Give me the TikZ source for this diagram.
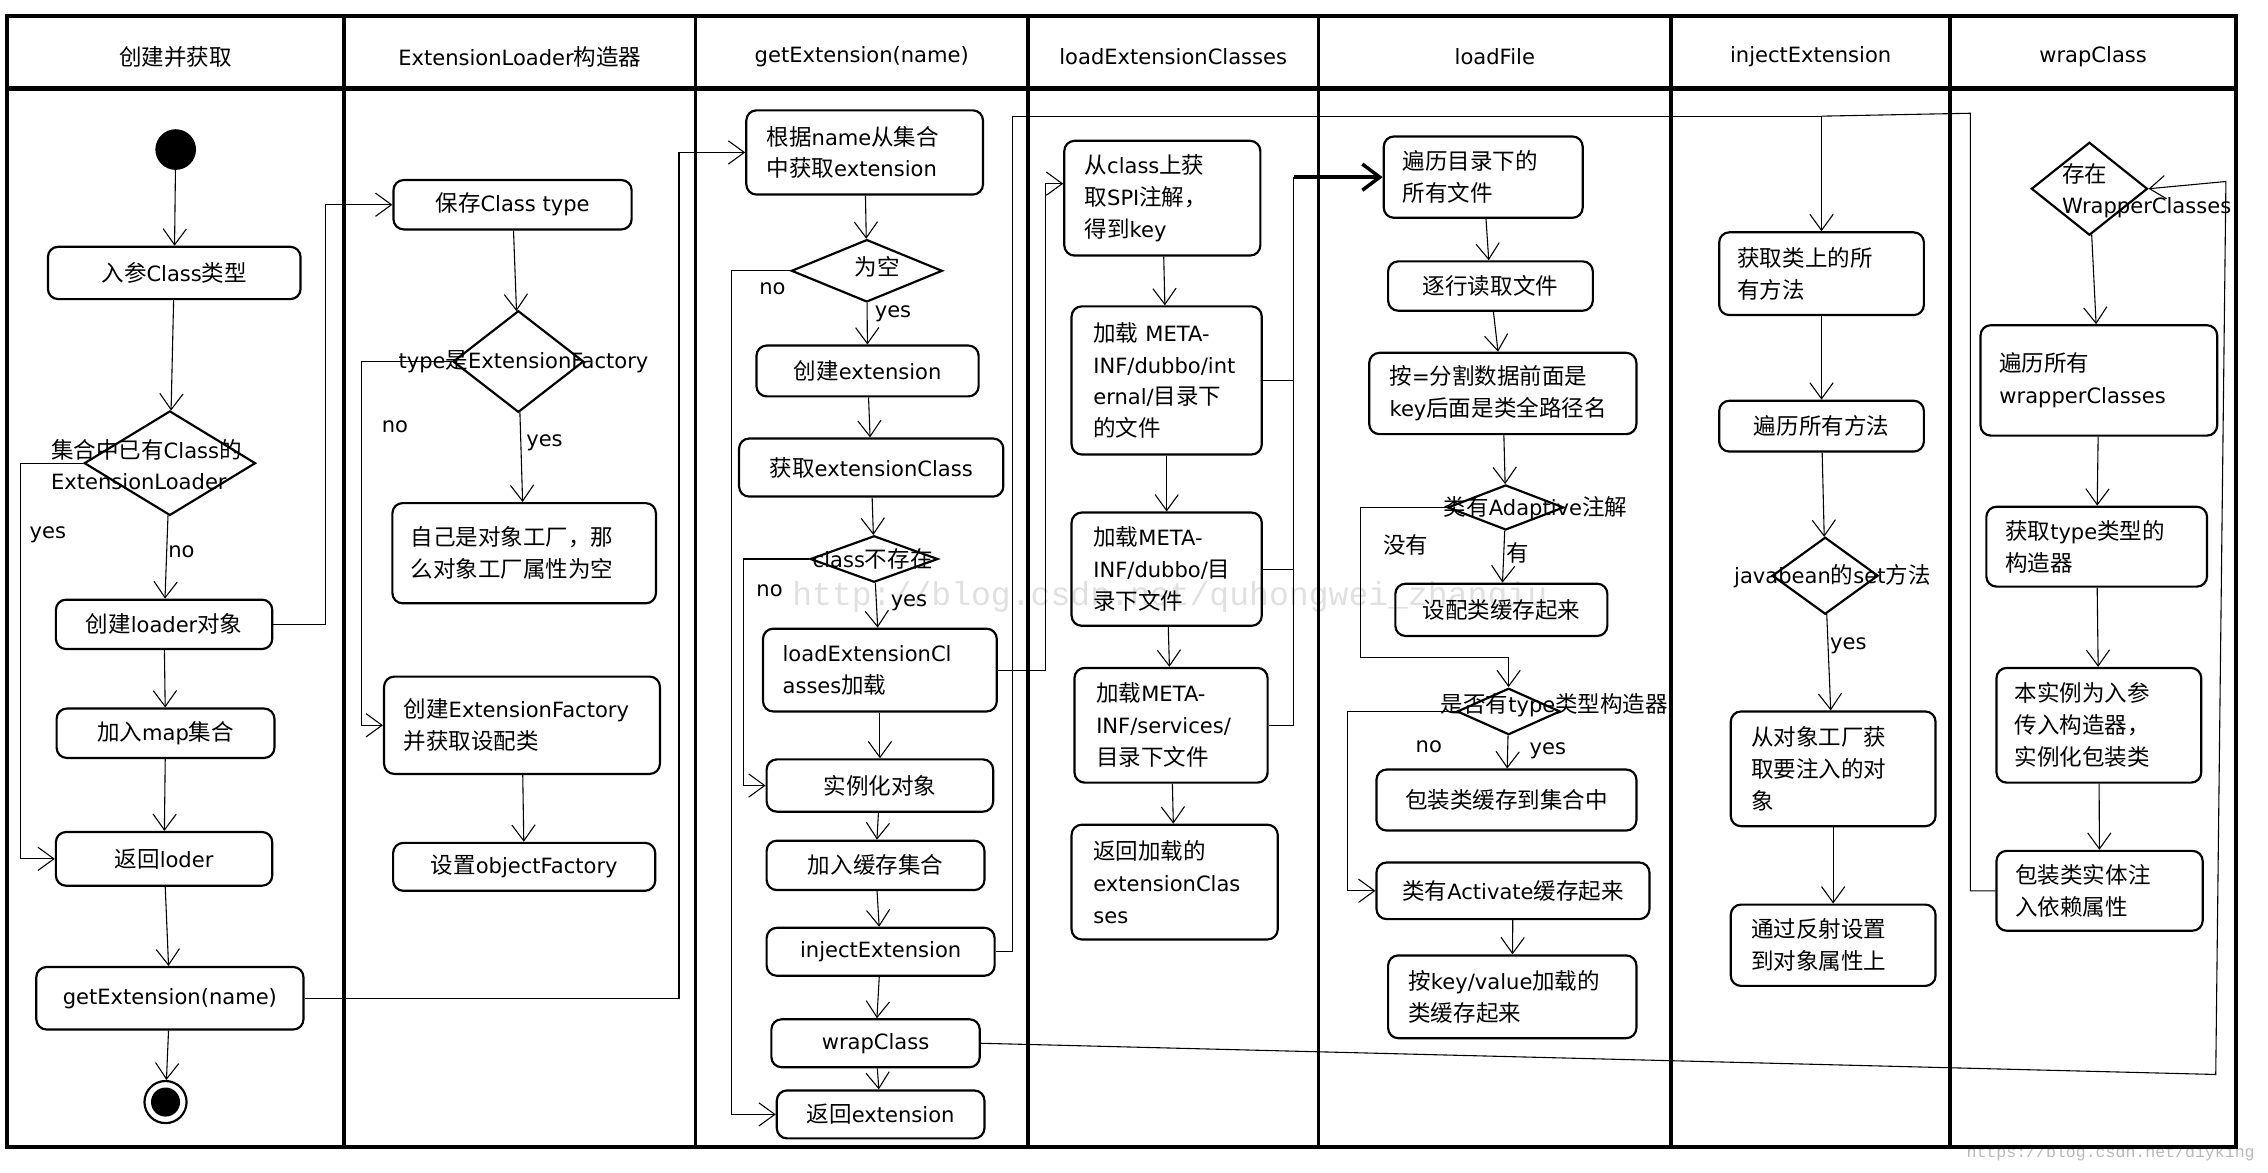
\documentclass[tikz,border=0pt]{standalone}
\usepackage{fontspec}
\setmainfont{DejaVu Sans}
\newfontfamily\cjkfont[Scale=1.07]{Noto Sans CJK SC}
\newfontfamily\latinfont{DejaVu Sans}
\newfontfamily\wmfont{Liberation Mono}
\usetikzlibrary{shapes.geometric,arrows.meta,calc}
\XeTeXinterchartokenstate=1
\chardef\CJKcls=200
\newcount\cjkcnt
\cjkcnt="3000
\loop
  \XeTeXcharclass\cjkcnt=\CJKcls
  \advance\cjkcnt by 1
\ifnum\cjkcnt<"A000\relax\repeat
\XeTeXcharclass"FF0C=\CJKcls
\XeTeXinterchartoks 0 \CJKcls = {\cjkfont}
\XeTeXinterchartoks 4095 \CJKcls = {\cjkfont}
\XeTeXinterchartoks \CJKcls 0 = {\latinfont}
\XeTeXinterchartoks \CJKcls 4095 = {\latinfont}
\tikzset{
  act/.style={draw, rounded corners=7pt, line width=1.5pt, inner sep=0pt, align=center},
  mact/.style n args={3}{act, align=left, text width=#1, inner xsep=#2, minimum height=#3},
  dec/.style={draw, diamond, line width=1.5pt, inner sep=0pt},
  conn/.style={line width=0.75pt},
  arr/.style={conn, -{Straight Barb[length=11pt,width=16pt]}},
  thickarr/.style={line width=2.4pt, -{Straight Barb[length=12pt,width=18pt]}},
  lbl/.style={inner sep=0pt},
  lane/.style={line width=2.6pt},
  wm/.style={inner sep=0pt, text=black!12, font=\wmfont\fontsize{22.8}{24}\selectfont}
}
\begin{document}
\begin{tikzpicture}[x=1pt,y=-1pt,font=\fontsize{14.5}{22}\selectfont]
\useasboundingbox (0,0) rectangle (1562,807.2);
% watermarks (light, behind)
\node[wm, anchor=west] (wm1) at (545.5,411) {http://blog.csdn.net/quhongwei\_zhanqiu};
\node[wm, anchor=east, text=black!28, font=\wmfont\fontsize{11.4}{12}\selectfont] (wm2) at (1553,794) {https://blog.csdn.net/diyking};
% frame and lanes
\draw[lane] (5,11) rectangle (1540,790);
\draw[line width=3pt] (5,61) -- (1540,61);
\foreach \lx in {237,479,708,908,1151,1343} {\draw[lane] (\lx,11) -- (\lx,790);}
% headers
\node (h1) at (121,39) {创建并获取};
\node (h2) at (358,39) {ExtensionLoader构造器};
\node (h3) at (593.5,39) {getExtension(name)};
\node (h4) at (808,39) {loadExtensionClasses};
\node (h5) at (1029.5,39) {loadFile};
\node (h6) at (1247,39) {injectExtension};
\node (h7) at (1441.5,39) {wrapClass};

% ---------- lane 1
\node[circle, fill, minimum size=28pt, inner sep=0pt] (st) at (121,103) {};
\node[act, minimum width=174pt, minimum height=36pt] (in1) at (120,188) {入参Class类型};
\node[dec, minimum width=118pt, minimum height=72pt] (d1) at (117,319) {};
\node[act, minimum width=149pt, minimum height=34pt] (c1) at (113,430) {创建loader对象};
\node[act, minimum width=150pt, minimum height=34pt] (m1) at (114,505) {加入map集合};
\node[act, minimum width=149pt, minimum height=37pt] (r1) at (113,591.5) {返回loder};
\node[act, minimum width=184pt, minimum height=43pt] (g1) at (117,687.5) {getExtension(name)};
\node[circle, draw, line width=1.5pt, minimum size=29pt, inner sep=0pt,
  path picture={\fill (path picture bounding box.center) circle (10pt);}] (en) at (114,759) {};
\draw[arr] (st) -- (in1);
\draw[arr] (in1) -- (d1);
\draw[arr] (d1) -- (c1);
\draw[arr] (c1) -- (m1);
\draw[arr] (m1) -- (r1);
\draw[arr] (r1) -- (g1);
\draw[arr] (g1) -- (en);
\draw[arr] (d1.west) -| (14,450) |- (r1.west);
\node[lbl, anchor=west, align=left] (l1) at (35,320) {集合中已有Class的\\ExtensionLoader};
\node[lbl] (y1) at (33,368) {yes};
\node[lbl] (n1) at (125,380) {no};

% ---------- lane 2
\node[act, minimum width=164pt, minimum height=34pt] (s2) at (353,141) {保存Class type};
\node[dec, minimum width=90pt, minimum height=70pt] (d2) at (357,249) {};
\node[mact={156.5pt}{12.5pt}{69pt}] (z2) at (361,381) {自己是对象工厂，那\\么对象工厂属性为空};
\node[mact={163pt}{13.5pt}{67pt}] (f2) at (359.5,499.5) {创建ExtensionFactory\\并获取设配类};
\node[act, minimum width=180.5pt, minimum height=33pt] (o2) at (361,597) {设置objectFactory};
\draw[arr] (c1.east) -| (224,300) |- (s2.west);
\draw[arr] (s2) -- (d2);
\draw[arr] (d2) -- (z2);
\draw[arr] (f2) -- (o2);
\draw[arr] (d2.west) -| (249,400) |- (f2.west);
\node[lbl] (l2) at (360.5,249) {type是ExtensionFactory};
\node[lbl] (n2) at (272,294) {no};
\node[lbl] (y2) at (375,305) {yes};

% ---------- lane 3
\node[mact={135pt}{14pt}{58pt}] (gn) at (595.5,105) {根据name从集合\\中获取extension};
\node[dec, minimum width=104pt, minimum height=43pt] (d3a) at (597,186.5) {};
\node[act, minimum width=153pt, minimum height=35pt] (ce) at (597.5,255.5) {创建extension};
\node[act, minimum width=182pt, minimum height=40pt] (gc) at (600,322) {获取extensionClass};
\node[dec, minimum width=88pt, minimum height=32pt] (d3b) at (602,385) {};
\node[mact={134pt}{13.5pt}{57pt}] (le) at (606,461.5) {loadExtensionCl\\asses加载};
\node[act, minimum width=156pt, minimum height=36pt] (io) at (606,541) {实例化对象};
\node[act, minimum width=150pt, minimum height=34pt] (ac) at (603,596) {加入缓存集合};
\node[act, minimum width=157pt, minimum height=33pt] (ie) at (606.5,655.5) {injectExtension};
\node[act, minimum width=143.5pt, minimum height=33pt] (wc) at (603,718.5) {wrapClass};
\node[act, minimum width=143pt, minimum height=33pt] (re) at (606.5,767.5) {返回extension};
\draw[arr] (g1.east) -| (467.6,400) |- (gn.west);
\draw[arr] (gn) -- (d3a);
\draw[arr] (d3a) -- (ce);
\draw[arr] (ce) -- (gc);
\draw[arr] (gc) -- (d3b);
\draw[arr] (d3b) -- (le);
\draw[arr] (le) -- (io);
\draw[arr] (io) -- (ac);
\draw[arr] (ac) -- (ie);
\draw[arr] (ie) -- (wc);
\draw[arr] (wc) -- (re);
\draw[arr] (d3a.west) -| (504,500) |- (re.west);
\draw[arr] (d3b.west) -| (512,450) |- (io.west);
\node[lbl] (l3a) at (604,184) {为空};
\node[lbl] (n3a) at (532,199) {no};
\node[lbl] (y3a) at (615,216) {yes};
\node[lbl] (l3b) at (601,384.7) {class不存在};
\node[lbl] (n3b) at (530,407) {no};
\node[lbl] (y3b) at (626,415) {yes};

% ---------- lane 4
\node[mact={107pt}{14pt}{79pt}] (sp) at (800.5,136.5) {从class上获\\取SPI注解，\\得到key};
\node[mact={101pt}{15pt}{102pt}] (mi) at (803.5,262) {加载 META-\\INF/dubbo/int\\ernal/目录下\\的文件};
\node[mact={101pt}{15pt}{78pt}] (md) at (803.5,392) {加载META-\\INF/dubbo/目\\录下文件};
\node[mact={103pt}{15pt}{79pt}] (ms) at (806.5,499.5) {加载META-\\INF/services/\\目录下文件};
\node[mact={112pt}{15pt}{79pt}] (rl) at (809,607.5) {返回加载的\\extensionClas\\ses};
\draw[arr] (le.east) -| (720,300) |- ($(sp.west)+(0,-10)$);
\draw[arr] (sp) -- (mi);
\draw[arr] (mi) -- (md);
\draw[arr] (md) -- (ms);
\draw[arr] (ms) -- (rl);
\coordinate (bus) at (891,122);
\draw[conn] (ms.east) -| (bus);
\draw[conn] (mi.east) -- (mi.east -| bus);
\draw[conn] (md.east) -- (md.east -| bus);

% ---------- lane 5
\node[mact={111pt}{13pt}{56pt}] (vf) at (1021.5,122) {遍历目录下的\\所有文件};
\node[act, minimum width=141pt, minimum height=34pt] (rf) at (1026.5,197) {逐行读取文件};
\node[mact={156pt}{14pt}{56pt}] (sk) at (1035,271) {按=分割数据前面是\\key后面是类全路径名};
\node[dec, minimum width=80pt, minimum height=31pt] (da) at (1037,349.5) {};
\node[act, minimum width=146pt, minimum height=36pt] (ca) at (1034,420) {设配类缓存起来};
\node[dec, minimum width=71pt, minimum height=32pt] (dt) at (1039,490) {};
\node[act, minimum width=179pt, minimum height=42pt] (wb) at (1037.5,551) {包装类缓存到集合中};
\node[act, minimum width=188pt, minimum height=39pt] (ka) at (1042,613.5) {类有Activate缓存起来};
\node[mact={143pt}{14pt}{57pt}] (kv) at (1041.5,686.5) {按key/value加载的\\类缓存起来};
\draw[thickarr] (bus) -- (vf.west);
\draw[arr] (vf) -- (rf);
\draw[arr] (rf) -- (sk);
\draw[arr] (sk) -- (da);
\draw[arr] (da) -- (ca);
\draw[arr] (da.west) -| (937,400) |- (1039,453) -- (dt.north);
\draw[arr] (dt) -- (wb);
\draw[arr] (dt.west) -| (928,550) |- (ka.west);
\draw[arr] (ka) -- (kv);
\node[lbl] (l5a) at (1057.5,350) {类有Adaptive注解};
\node[lbl] (n5a) at (968,375) {没有};
\node[lbl] (y5a) at (1045,381) {有};
\node[lbl] (l5b) at (1070.5,486) {是否有type类型构造器};
\node[lbl] (n5b) at (984,514) {no};
\node[lbl] (y5b) at (1066,517) {yes};

% ---------- lane 6
\node[mact={115.8pt}{12.6pt}{57pt}] (gi) at (1254.5,188.5) {获取类上的所\\有方法};
\node[act, minimum width=141pt, minimum height=35pt] (am) at (1254.5,293.5) {遍历所有方法};
\node[dec, minimum width=73pt, minimum height=53pt] (dj) at (1257,396.5) {};
\node[mact={113pt}{14pt}{79pt}] (fo) at (1262.5,529.5) {从对象工厂获\\取要注入的对\\象};
\node[mact={113pt}{14pt}{56pt}] (rs) at (1262.5,651) {通过反射设置\\到对象属性上};
\draw[arr] (ie.east) -| (697,300) |- (1254.5,80) -- (gi.north);
\draw[arr] (gi) -- (am);
\draw[arr] (am) -- (dj);
\draw[arr] (dj) -- (fo);
\draw[arr] (fo) -- (rs);
\node[lbl] (l6) at (1262,397) {javabean的set方法};
\node[lbl] (y6) at (1273,445) {yes};

% ---------- lane 7
\node[dec, minimum width=80pt, minimum height=64pt] (dw) at (1439,130) {};
\node[mact={137pt}{13pt}{76pt}] (aw) at (1445.5,262) {遍历所有\\wrapperClasses};
\node[mact={126pt}{13pt}{55pt}] (gt) at (1444,376.5) {获取type类型的\\构造器};
\node[mact={116pt}{12.5pt}{79pt}] (ni) at (1445.5,499.5) {本实例为入参\\传入构造器，\\实例化包装类};
\node[mact={116pt}{13pt}{55pt}] (bw) at (1446,613.5) {包装类实体注\\入依赖属性};
\draw[arr] (dw) -- (aw);
\draw[arr] (aw) -- (gt);
\draw[arr] (gt) -- (ni);
\draw[arr] (ni) -- (bw);
\draw[arr] (wc.east) -- (1526,740) -- (1533,125) -- (dw.east);
\draw[conn] (bw.west) -- (1357,613.5) -- (1357,78) -- (1254.5,80);
\node[lbl, anchor=west, align=left, font=\fontsize{14.5}{21}\selectfont] (l7) at (1420,131.5) {存在\\WrapperClasses};
\end{tikzpicture}
\end{document}
